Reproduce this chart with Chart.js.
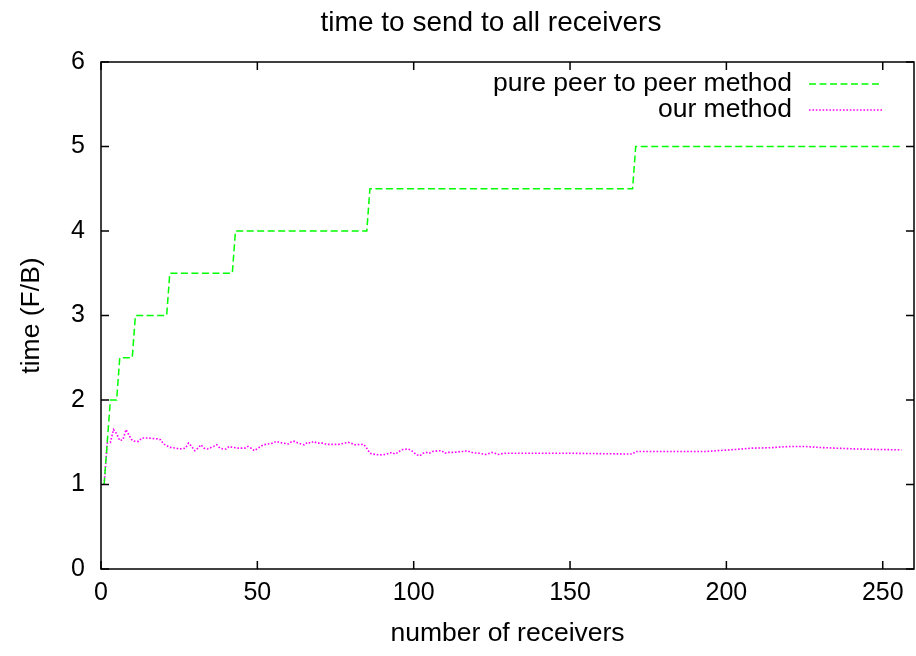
<!DOCTYPE html>
<html>
<head>
<meta charset="utf-8">
<script src="https://cdn.jsdelivr.net/npm/chart.js@4/dist/chart.umd.min.js"></script>
<style>
  html, body { margin: 0; padding: 0; background: #fff; }
  #wrap { width: 916px; height: 656px; }
</style>
</head>
<body>
<div id="wrap"><canvas id="c" width="916" height="656"></canvas></div>
<script>
// Axis ticks
const xTicks = [0, 50, 100, 150, 200, 250];
const yTicks = [0, 1, 2, 3, 4, 5, 6];

// Pure peer-to-peer: step corners (receivers, time)
const p2pX = [1, 2, 3, 5, 6, 10, 11, 21, 22, 42, 43, 85, 86, 170, 171, 256];
const p2pY = [1, 1.5, 2, 2, 2.5, 2.5, 3, 3, 3.5, 3.5, 4, 4, 4.5, 4.5, 5, 5];

// Our method (receivers, time)
const oursX = [1, 2, 3, 4, 5, 6, 7, 8, 9, 10, 11, 12, 13, 15, 18, 19, 20, 22, 24, 25,
  27, 28, 29, 30, 31, 32, 33, 34, 36, 37, 38, 39, 40, 41, 42, 44, 46, 47, 48, 49,
  51, 52, 55, 56, 58, 60, 61, 62, 63, 65, 66, 67, 68, 69, 71, 72, 76, 78, 79, 80,
  81, 84, 85, 86, 87, 89, 91, 93, 94, 95, 96, 98, 99, 100, 101, 102, 103, 104, 105, 106,
  108, 109, 110, 111, 113, 115, 116, 117, 119, 121, 123, 125, 126, 127, 129, 150, 170, 171, 193, 197,
  203, 208, 214, 220, 225, 229, 235, 242, 248, 256];
const oursY = [1.00, 1.49, 1.50, 1.65, 1.60, 1.52, 1.53, 1.65, 1.58, 1.52, 1.51, 1.51, 1.55, 1.55, 1.54, 1.53, 1.48, 1.44, 1.43, 1.42,
  1.43, 1.49, 1.45, 1.40, 1.43, 1.47, 1.43, 1.42, 1.45, 1.47, 1.43, 1.42, 1.42, 1.45, 1.44, 1.43, 1.43, 1.45, 1.43, 1.40,
  1.45, 1.47, 1.49, 1.51, 1.49, 1.48, 1.51, 1.51, 1.49, 1.47, 1.50, 1.49, 1.51, 1.49, 1.49, 1.475, 1.475, 1.49, 1.50, 1.49,
  1.47, 1.475, 1.43, 1.37, 1.36, 1.35, 1.355, 1.38, 1.36, 1.38, 1.41, 1.42, 1.41, 1.38, 1.35, 1.34, 1.37, 1.38, 1.37, 1.39,
  1.40, 1.40, 1.37, 1.38, 1.38, 1.39, 1.39, 1.40, 1.375, 1.37, 1.355, 1.38, 1.37, 1.355, 1.37, 1.37, 1.36, 1.39, 1.39, 1.40,
  1.415, 1.43, 1.435, 1.45, 1.45, 1.44, 1.43, 1.42, 1.415, 1.41];

const TITLE = 'time to send to all receivers';
const FONT = '"Liberation Sans", Arial, Helvetica, sans-serif';
const TICK_SIZE = 25;
const TEXT_SIZE = 26.5;
const TITLE_SIZE = 28;

const toPoints = (xs, ys) => xs.map((x, i) => ({ x: x, y: ys[i] }));

// Box frame with inward ticks on all four sides, the title, and a gnuplot-style key
const framePlugin = {
  id: 'frame',
  afterDatasetsDraw(chart) {
    const { ctx, chartArea: a, scales } = chart;
    ctx.save();
    ctx.strokeStyle = '#000';
    ctx.lineWidth = 1.5;
    ctx.setLineDash([]);
    ctx.beginPath();
    xTicks.forEach(v => {
      const px = scales.x.getPixelForValue(v);
      ctx.moveTo(px, a.bottom); ctx.lineTo(px, a.bottom - 8);
      ctx.moveTo(px, a.top); ctx.lineTo(px, a.top + 8);
    });
    yTicks.forEach(v => {
      const py = scales.y.getPixelForValue(v);
      ctx.moveTo(a.left, py); ctx.lineTo(a.left + 8, py);
      ctx.moveTo(a.right, py); ctx.lineTo(a.right - 8, py);
    });
    ctx.stroke();
    ctx.strokeRect(a.left, a.top, a.right - a.left, a.bottom - a.top);

    // title
    ctx.fillStyle = '#000';
    ctx.font = TITLE_SIZE + 'px ' + FONT;
    ctx.textAlign = 'center';
    ctx.textBaseline = 'middle';
    ctx.fillText(TITLE, 491, 23);

    // key
    const rows = [84, 110];
    ctx.font = TEXT_SIZE + 'px ' + FONT;
    ctx.textAlign = 'right';
    chart.data.datasets.forEach((ds, i) => {
      const y = rows[i];
      ctx.fillStyle = '#000';
      ctx.fillText(ds.label, 792, y);
      ctx.strokeStyle = ds.borderColor;
      ctx.lineWidth = ds.borderWidth;
      ctx.setLineDash(ds.borderDash);
      ctx.beginPath();
      ctx.moveTo(809, y);
      ctx.lineTo(882, y);
      ctx.stroke();
    });
    ctx.restore();
  }
};

new Chart(document.getElementById('c'), {
  type: 'line',
  data: {
    datasets: [
      {
        label: 'pure peer to peer method',
        data: toPoints(p2pX, p2pY),
        borderColor: '#00ff00',
        borderWidth: 1.5,
        borderDash: [7, 3.5],
        pointRadius: 0,
        tension: 0,
        fill: false
      },
      {
        label: 'our method',
        data: toPoints(oursX, oursY),
        borderColor: '#ff00ff',
        borderWidth: 1.6,
        borderDash: [1.6, 1.8],
        pointRadius: 0,
        tension: 0,
        fill: false
      }
    ]
  },
  options: {
    responsive: false,
    animation: false,
    devicePixelRatio: 1,
    layout: { padding: { top: 62, left: 0, right: 2, bottom: 0 } },
    plugins: {
      legend: { display: false },
      tooltip: { enabled: false },
      title: { display: false }
    },
    scales: {
      x: {
        type: 'linear',
        min: 0,
        max: 260,
        afterBuildTicks: s => { s.ticks = xTicks.map(v => ({ value: v })); },
        afterFit: s => { s.height = 87; },
        grid: { display: false, drawTicks: false },
        border: { display: false },
        ticks: { color: '#000', padding: 9, maxRotation: 0, font: { family: FONT, size: TICK_SIZE } },
        title: {
          display: true,
          text: 'number of receivers',
          color: '#000',
          font: { family: FONT, size: TEXT_SIZE },
          padding: { top: 0, bottom: 6 }
        }
      },
      y: {
        type: 'linear',
        min: 0,
        max: 6,
        afterBuildTicks: s => { s.ticks = yTicks.map(v => ({ value: v })); },
        afterFit: s => { s.width = 101; },
        grid: { display: false, drawTicks: false },
        border: { display: false },
        ticks: { color: '#000', padding: 16, font: { family: FONT, size: TICK_SIZE } },
        title: {
          display: true,
          text: 'time (F/B)',
          color: '#000',
          font: { family: FONT, size: TEXT_SIZE },
          padding: { top: 16, bottom: 0 }
        }
      }
    }
  },
  plugins: [framePlugin]
});
</script>
</body>
</html>
